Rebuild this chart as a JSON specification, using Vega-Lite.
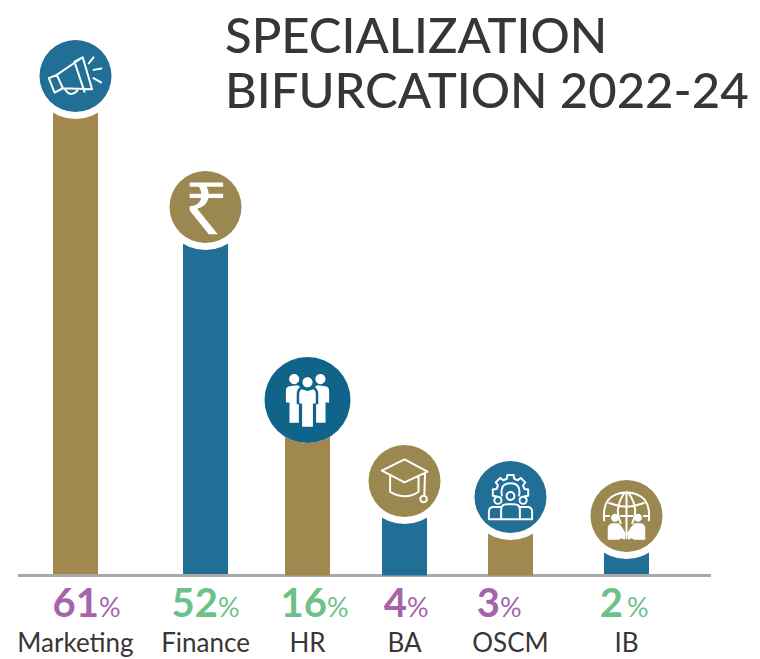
{
"$schema":"https://vega.github.io/schema/vega-lite/v6.json",
"width":760,"height":659,"padding":0,"autosize":"none",
"background":"white",
"view":{"stroke":null},
"title":{"text":["SPECIALIZATION","BIFURCATION 2022-24"],"anchor":"start","frame":"group","dx":225,"offset":-118,"font":"Lato","fontSize":49,"fontWeight":500,"color":"#393536","lineHeight":55,"align":"left"},
"data":{"values":[
{"order":1,"label":"Marketing","pct":61},
{"order":2,"label":"Finance","pct":52},
{"order":3,"label":"HR","pct":16},
{"order":4,"label":"BA","pct":4},
{"order":5,"label":"OSCM","pct":3},
{"order":6,"label":"IB","pct":2}
]},
"encoding":{
"x":{"field":"order","type":"quantitative","axis":null,"scale":{"domain":[0,1,2,3,4,5,6,7],"range":[18,75.5,205.5,307.5,404.5,510.5,626.5,711],"nice":false,"zero":false}},
"y":{"field":"pct","type":"quantitative","axis":null,"scale":{"domain":[0,2,3,4,16,52,61],"range":[575.5,516,497,481,400,207,76],"nice":false,"zero":false}}
},
"layer":[
{"mark":{"type":"bar","orient":"vertical","size":45},
 "encoding":{"y2":{"datum":0},"color":{"condition":{"test":"datum.order%2===1","value":"#a0884f"},"value":"#216e96"}}},
{"mark":{"type":"rule","color":"#a9a9a9","strokeWidth":3},
 "encoding":{"x":{"datum":0,"type":"quantitative","axis":null,"scale":{"domain":[0,1,2,3,4,5,6,7],"range":[18,75.5,205.5,307.5,404.5,510.5,626.5,711],"nice":false,"zero":false}},"x2":{"datum":7},"y":{"datum":0,"type":"quantitative"}}},
{"transform":[{"filter":"datum.order>=3&&datum.order<=5"}],
 "mark":{"type":"bar","orient":"vertical","size":45},
 "encoding":{"y":{"datum":0.9,"type":"quantitative"},"y2":{"datum":0},"color":{"condition":{"test":"datum.order%2===1","value":"#a0884f"},"value":"#216e96"}}},
{"mark":{"type":"circle","size":7396,"color":"white","opacity":1}},
{"mark":{"type":"circle","opacity":1},
 "encoding":{"size":{"condition":{"test":"datum.label==='HR'","value":7396},"value":5184},
 "color":{"condition":[{"test":"datum.label==='HR'","value":"#10648a"},{"test":"datum.order%2===1","value":"#216e96"}],"value":"#9a8850"}}},
{"transform":[{"filter":"datum.label!=='HR'&&datum.label!=='Finance'"}],
 "mark":{"type":"point","filled":false,"size":5184,"stroke":"white","strokeWidth":2,"opacity":1,"strokeJoin":"round","strokeCap":"round"},
 "encoding":{"shape":{"field":"label","type":"nominal","legend":null,"scale":{"domain":["Marketing","BA","OSCM","IB"],"range":[
 "M-.52,-.03L-.74,.06L-.58,.46L-.35,.34ZM-.52,-.03L.2,-.52L.46,.37L-.35,.34ZM-.03,-.4L.25,.44M.2,-.52L-.03,-.4M-.28,.39Q-.14,.6 .05,.41M.37,-.35L.5,-.52M.5,-.17L.72,-.21M.5,.06L.71,.18",
 "M-.63,-.29L0,-.6L.64,-.26L0,.04ZM-.4,-.12L-.4,.3Q.04,.55 .39,.3L.39,-.12M.57,-.21L.55,.41M.44,.5a.09,.09 0 1 0 .18,0a.09,.09 0 1 0 -.18,0",
 "M-.386,-.016L-.492,-.033L-.492,-.207L-.386,-.224L-.346,-.32L-.41,-.407L-.287,-.53L-.2,-.466L-.104,-.506L-.087,-.612L.087,-.612L.104,-.506L.2,-.466L.287,-.53L.41,-.407L.346,-.32L.386,-.224L.492,-.207L.492,-.033L.386,-.016M-.24,-.04Q-.3,-.38 0,-.38Q.3,-.38 .24,-.04M-.11,-.03a.11,.11 0 1 0 .22,0a.11,.11 0 1 0 -.22,0M-.45,.09a.1,.1 0 1 0 .2,0a.1,.1 0 1 0 -.2,0M.25,.09a.1,.1 0 1 0 .2,0a.1,.1 0 1 0 -.2,0M-.26,.62L-.26,.35Q-.26,.2 -.1,.2L.1,.2Q.26,.2 .26,.35L.26,.62ZM-.26,.28L-.5,.28Q-.6,.3 -.6,.42L-.6,.62L-.26,.62M.26,.28L.5,.28Q.6,.3 .6,.42L.6,.62L.26,.62",
 "M-.62,.12Q-.7,-.62 0,-.66Q.7,-.62 .62,.12M0,-.66L0,.62M-.06,-.64Q-.36,-.2 -.16,.2M.06,-.64Q.36,-.2 .16,.2M-.48,-.36Q0,-.16 .48,-.36M-.62,.0L-.48,.0M-.16,.0L.16,.0M.48,.0L.62,.0"
 ]}}}},
{"transform":[{"filter":"datum.label==='Finance'||datum.label==='HR'||datum.label==='IB'"}],
 "mark":{"type":"point","filled":true,"size":5184,"fill":"white","stroke":null,"opacity":1},
 "encoding":{"shape":{"field":"label","type":"nominal","legend":null,"scale":{"domain":["Finance","HR","IB"],"range":[
 "M-.44,-.68L.49,-.68L.49,-.56L-.44,-.56ZM-.44,-.37L.49,-.37L.49,-.25L-.44,-.25ZM.02,-.58C.16,-.35 .1,-.02 -.23,.05L.34,.76L.09,.76L-.44,.1L-.44,-.02C-.1,-.02 -.03,-.35 -.2,-.58Z",
 "M-.51,-.58a.14,.14 0 1 0 .28,0a.14,.14 0 1 0 -.28,0M-.14,-.49a.14,.14 0 1 0 .28,0a.14,.14 0 1 0 -.28,0M.22,-.58a.14,.14 0 1 0 .28,0a.14,.14 0 1 0 -.28,0M-.28,-.41L-.5,-.38Q-.6,-.36 -.6,-.26L-.6,.07L-.5,.07L-.5,.63L-.24,.63L-.24,.12L-.3,.12L-.3,-.16Q-.3,-.3 -.2,-.36ZM-.16,-.3Q-.23,-.27 -.23,-.16L-.23,.1L-.15,.1L-.15,.74L.15,.74L.15,.1L.23,.1L.23,-.16Q.23,-.27 .16,-.3L0,-.25ZM.28,-.41L.5,-.38Q.6,-.36 .6,-.26L.6,.07L.5,.07L.5,.63L.24,.63L.24,.12L.3,.12L.3,-.16Q.3,-.3 .2,-.36Z",
 "M-.43,.05a.11,.11 0 1 0 .22,0a.11,.11 0 1 0 -.22,0M.21,.05a.11,.11 0 1 0 .22,0a.11,.11 0 1 0 -.22,0M-.52,.66L-.52,.32Q-.5,.22 -.4,.2L-.22,.2L-.12,.32L-.02,.48L-.05,.66L-.15,.62L-.2,.66ZM.52,.66L.52,.32Q.5,.22 .4,.2L.22,.2L.12,.32L.02,.48L.05,.66L.15,.62L.2,.66Z"
 ]}}}},
{"mark":{"type":"text","align":"right","baseline":"alphabetic","font":"Lato","fontWeight":"bold","fontSize":40},
 "encoding":{"x":{"field":"order","type":"quantitative","axis":null,"scale":{"domain":[1,2,3,4,5,6],"range":[99,218,327,407,500,623],"nice":false,"zero":false}},
 "y":{"datum":0,"type":"quantitative"},"yOffset":{"value":41},
 "text":{"field":"pct","type":"nominal"},
 "color":{"condition":{"test":"datum.label==='Marketing'||datum.label==='BA'||datum.label==='OSCM'","value":"#a564aa"},"value":"#6cc18a"}}},
{"mark":{"type":"text","align":"left","baseline":"alphabetic","font":"Lato","fontSize":27},
 "encoding":{"x":{"field":"order","type":"quantitative","axis":null,"scale":{"domain":[1,2,3,4,5,6],"range":[99,218,327,407,500,627],"nice":false,"zero":false}},
 "y":{"datum":0,"type":"quantitative"},"yOffset":{"value":41},
 "text":{"value":"%"},
 "color":{"condition":{"test":"datum.label==='Marketing'||datum.label==='BA'||datum.label==='OSCM'","value":"#a564aa"},"value":"#6cc18a"}}},
{"mark":{"type":"text","align":"center","baseline":"alphabetic","font":"Lato","fontSize":26,"color":"#3a3536"},
 "encoding":{"y":{"datum":0,"type":"quantitative"},"yOffset":{"value":76},"text":{"field":"label"}}}
],
"resolve":{"scale":{"x":"independent","shape":"independent"}}
}
